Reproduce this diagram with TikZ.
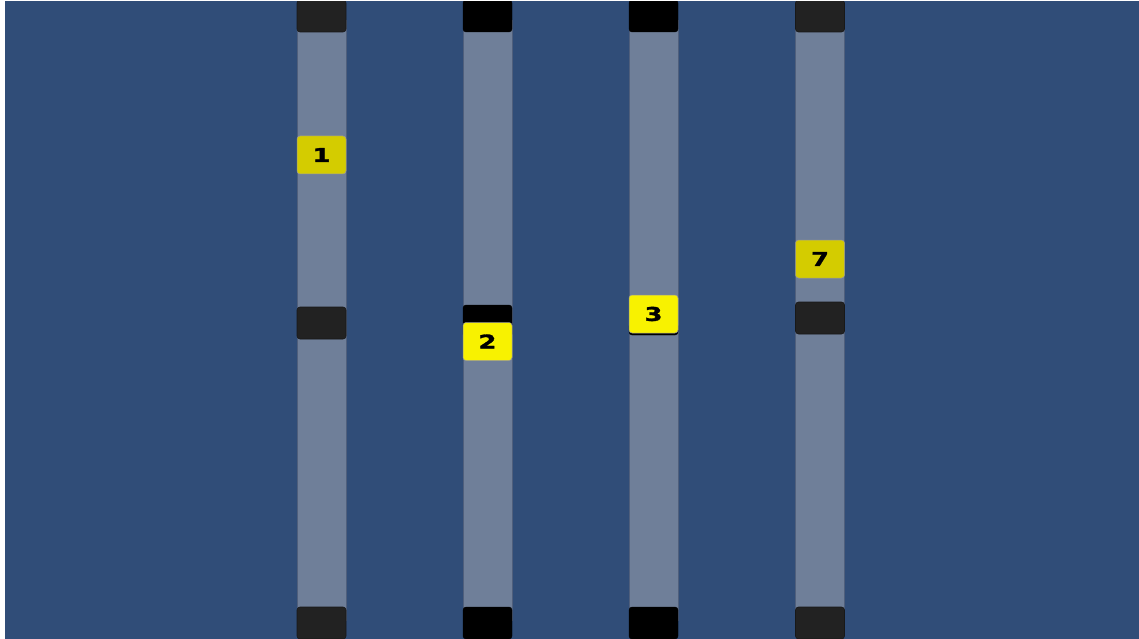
\documentclass[tikz,border=0pt]{standalone}
\usepackage{fontspec}
\setmainfont{DejaVu Sans}
\newfontfamily\digfont[FakeBold=1.5]{DejaVu Sans Bold}
\newcommand{\wdig}[1]{\scalebox{1.35}[1]{\digfont\fontsize{19}{19}\selectfont #1}}
\begin{document}
\begin{tikzpicture}[x=1pt,y=-1pt,
  track/.style={fill=trackc,draw=trackedge,line width=0.8pt},
  grayblock/.style={fill=blockgray,draw=blockgray!70!black,line width=0.6pt,rounded corners=3pt,inner sep=0pt,minimum width=49pt,minimum height=32pt},
  blackblock/.style={fill=black,draw=black,rounded corners=3pt,inner sep=0pt,minimum width=49pt,minimum height=32pt},
  tile/.style={draw=black!40,line width=0.5pt,rounded corners=3pt,inner sep=0pt,minimum width=49pt,minimum height=38pt,text=black}]
\definecolor{bgc}{HTML}{304D78}
\definecolor{trackc}{HTML}{6F7F99}
\definecolor{trackedge}{HTML}{4F5F7C}
\definecolor{blockgray}{HTML}{222222}
\definecolor{dimy}{HTML}{D4CC00}
\definecolor{bright}{HTML}{F8F200}
\useasboundingbox (0,0) rectangle (1139,639);
\fill[white] (0,0) rectangle (1139,639);
\fill[bgc] (5,1) rectangle (1139,639);
% tracks
\foreach \cx/\nm in {321.5/a,487.5/b,653.5/c,820/d}{
  \path[track] (\cx-24.5,20) rectangle (\cx+24.5,620);
}
% top and bottom blocks
\node[grayblock] (ta) at (321.5,16) {};
\node[blackblock] (tb) at (487.5,16) {};
\node[blackblock] (tc) at (653.5,16) {};
\node[grayblock] (td) at (820,16) {};
\node[grayblock] (ba) at (321.5,623) {};
\node[blackblock] (bb) at (487.5,623) {};
\node[blackblock] (bc) at (653.5,623) {};
\node[grayblock] (bd) at (820,623) {};
\fill[white] (0,0) rectangle (5,639);
\fill[white] (0,0) rectangle (1139,1);
% middle blocks
\node[grayblock] (ma) at (321.5,323) {};
\node[blackblock] (mb) at (487.5,321) {};
\node[blackblock,minimum height=12pt] (mc) at (653.5,329) {};
\node[grayblock] (md) at (820,318) {};
% tiles
\node[tile,fill=dimy] (t1) at (321.5,155) {\wdig{1}};
\node[tile,fill=bright] (t2) at (487.5,341.5) {\wdig{2}};
\node[tile,fill=bright] (t3) at (653.5,314) {\wdig{3}};
\node[tile,fill=dimy] (t7) at (820,259) {\wdig{7}};
\end{tikzpicture}
\end{document}
